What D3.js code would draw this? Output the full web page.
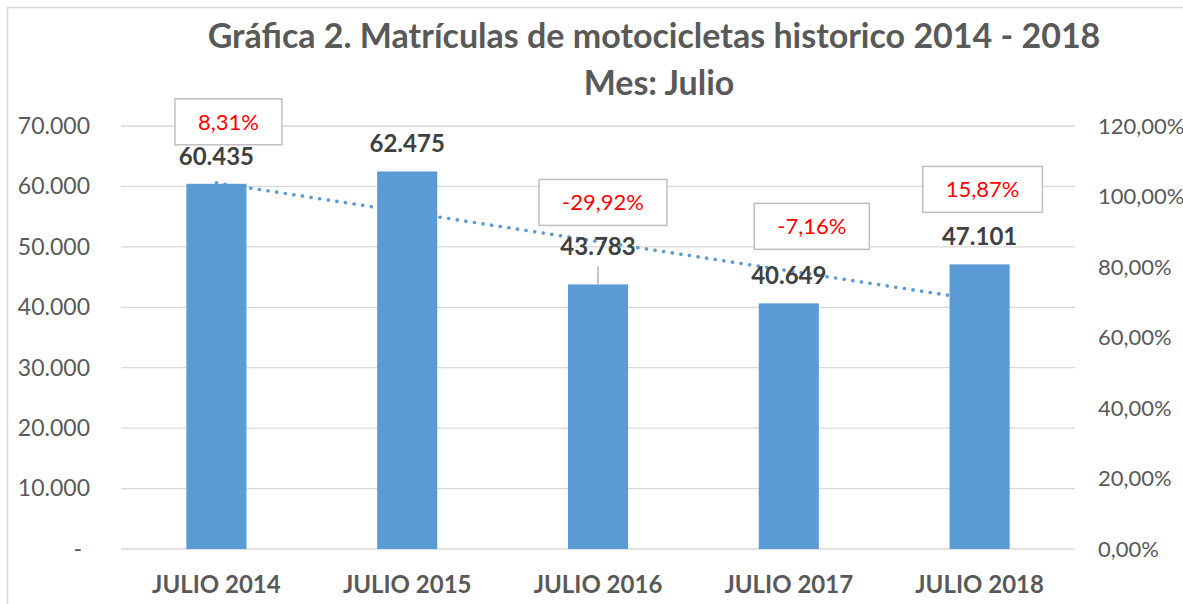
<!DOCTYPE html>
<html>
<head>
<meta charset="utf-8">
<script src="https://cdn.jsdelivr.net/npm/d3@7"></script>
<style>
  body { margin: 0; background: #fff; }
  text { font-family: Lato, "Open Sans", sans-serif; }
</style>
</head>
<body>
<div id="chart-area"></div>
<script>
// Data
var categories = ["JULIO 2014", "JULIO 2015", "JULIO 2016", "JULIO 2017", "JULIO 2018"];
var matriculas = [60435, 62475, 43783, 40649, 47101];
var variacion = ["8,31%", null, "-29,92%", "-7,16%", "15,87%"];
var leftTicks = [0, 10000, 20000, 30000, 40000, 50000, 60000, 70000];
var rightTicks = [0, 0.2, 0.4, 0.6, 0.8, 1.0, 1.2];

// Layout of labels (pixels above bar top / shift from bar centre)
var labelLift = [19, 19, 29, 19, 19];
var boxLift = [62, 0, 82, 77, 75];
var boxShift = [12, 0, 5, 23, 3];

var W = 1183, H = 604;
var plot = { left: 121, right: 1075, top: 126, bottom: 549 };

var svg = d3.select("#chart-area").append("svg")
    .attr("width", W)
    .attr("height", H);

// Chart border
svg.append("rect")
    .attr("x", 7.5).attr("y", 7.5)
    .attr("width", W + 10).attr("height", H + 10)
    .attr("fill", "#fff")
    .attr("stroke", "#d9d9d9")
    .attr("stroke-width", 1.5);

// Scales
var x = d3.scaleBand().domain(categories).range([plot.left, plot.right]);
var y = d3.scaleLinear().domain([0, 70000]).range([plot.bottom, plot.top]);
var y2 = d3.scaleLinear().domain([0, 1.2]).range([plot.bottom, plot.top]);
var barW = x.bandwidth() * 0.315;
var cx = function(c) { return x(c) + x.bandwidth() / 2; };

// Gridlines
svg.append("g").selectAll("line").data(leftTicks).enter().append("line")
    .attr("x1", plot.left).attr("x2", plot.right)
    .attr("y1", function(d) { return y(d); })
    .attr("y2", function(d) { return y(d); })
    .attr("stroke", "#d9d9d9")
    .attr("stroke-width", 1.3);

// Left axis
var fmtMiles = function(d) {
    return d === 0 ? "-" : d3.format(",")(d).replace(/,/g, ".");
};
var yAxis = svg.append("g")
    .attr("transform", "translate(90,0)")
    .call(d3.axisLeft(y).tickValues(leftTicks).tickSize(0).tickPadding(0).tickFormat(fmtMiles));
yAxis.select(".domain").remove();
yAxis.selectAll("text")
    .attr("fill", "#595959")
    .attr("font-size", "23px")
    .attr("dx", function(d) { return d === 0 ? -8 : 0; });

// Right axis
var fmtPct = function(d) { return d3.format(".2f")(d * 100).replace(".", ",") + "%"; };
var yAxis2 = svg.append("g")
    .attr("transform", "translate(1098,0)")
    .call(d3.axisRight(y2).tickValues(rightTicks).tickSize(0).tickPadding(0).tickFormat(fmtPct));
yAxis2.select(".domain").remove();
yAxis2.selectAll("text")
    .attr("fill", "#595959")
    .attr("font-size", "22px");

// Bottom axis labels
var xAxis = svg.append("g")
    .attr("transform", "translate(0," + plot.bottom + ")")
    .call(d3.axisBottom(x).tickSize(0).tickPadding(0));
xAxis.select(".domain").remove();
xAxis.selectAll("text")
    .attr("fill", "#595959")
    .attr("font-size", "24px")
    .attr("font-weight", "bold")
    .attr("dy", null)
    .attr("y", 44);

// Bars
svg.append("g").selectAll("rect").data(matriculas).enter().append("rect")
    .attr("x", function(d, i) { return cx(categories[i]) - barW / 2; })
    .attr("y", function(d) { return y(d); })
    .attr("width", barW)
    .attr("height", function(d) { return y(0) - y(d); })
    .attr("fill", "#5b9bd5");

// Linear trendline (least squares on the bar values)
var n = matriculas.length;
var mx = d3.mean(matriculas, function(d, i) { return i; });
var my = d3.mean(matriculas);
var slope = d3.sum(matriculas, function(d, i) { return (i - mx) * (d - my); }) /
    d3.sum(matriculas, function(d, i) { return (i - mx) * (i - mx); });
var trend = [0, n - 1].map(function(i) { return { i: i, v: my + slope * (i - mx) }; });
svg.append("path")
    .attr("d", d3.line()
        .x(function(d) { return cx(categories[d.i]); })
        .y(function(d) { return y(d.v); })(trend))
    .attr("fill", "none")
    .attr("stroke", "#5b9bd5")
    .attr("stroke-width", 3.6)
    .attr("stroke-linecap", "round")
    .attr("stroke-dasharray", "0.1 8.6");

// Leader line for displaced label
matriculas.forEach(function(d, i) {
    if (labelLift[i] > 19) {
        svg.append("line")
            .attr("x1", cx(categories[i])).attr("x2", cx(categories[i]))
            .attr("y1", y(d) - labelLift[i] + 11)
            .attr("y2", y(d))
            .attr("stroke", "#a6a6a6")
            .attr("stroke-width", 1.3);
    }
});

// Value labels
svg.append("g").selectAll("text").data(matriculas).enter().append("text")
    .attr("x", function(d, i) { return cx(categories[i]); })
    .attr("y", function(d, i) { return y(d) - labelLift[i]; })
    .attr("text-anchor", "middle")
    .attr("fill", "#404040")
    .attr("font-size", "24px")
    .attr("font-weight", "bold")
    .text(function(d) { return d3.format(",")(d).replace(/,/g, "."); });

// Percentage callouts
variacion.forEach(function(v, i) {
    if (!v) return;
    var bx = cx(categories[i]) + boxShift[i];
    var by = y(matriculas[i]) - boxLift[i];
    var g = svg.append("g");
    var box = g.append("rect");
    var t = g.append("text")
        .attr("x", bx)
        .attr("y", by + 8)
        .attr("text-anchor", "middle")
        .attr("fill", "#ff0000")
        .attr("font-size", "22px")
        .text(v);
    var w = t.node().getComputedTextLength() + 46;
    box.attr("x", bx - w / 2)
        .attr("y", by - 23)
        .attr("width", w)
        .attr("height", 46)
        .attr("fill", "#fff")
        .attr("stroke", "#bfbfbf")
        .attr("stroke-width", 1.5);
});

// Title
var title = svg.append("text")
    .attr("text-anchor", "middle")
    .attr("fill", "#595959")
    .attr("font-size", "34px")
    .attr("font-weight", "bold");
title.append("tspan").attr("x", 654).attr("y", 48)
    .text("Gráfica 2. Matrículas de motocicletas historico 2014 - 2018");
title.append("tspan").attr("x", 659).attr("y", 95)
    .text("Mes: Julio");
</script>
</body>
</html>
